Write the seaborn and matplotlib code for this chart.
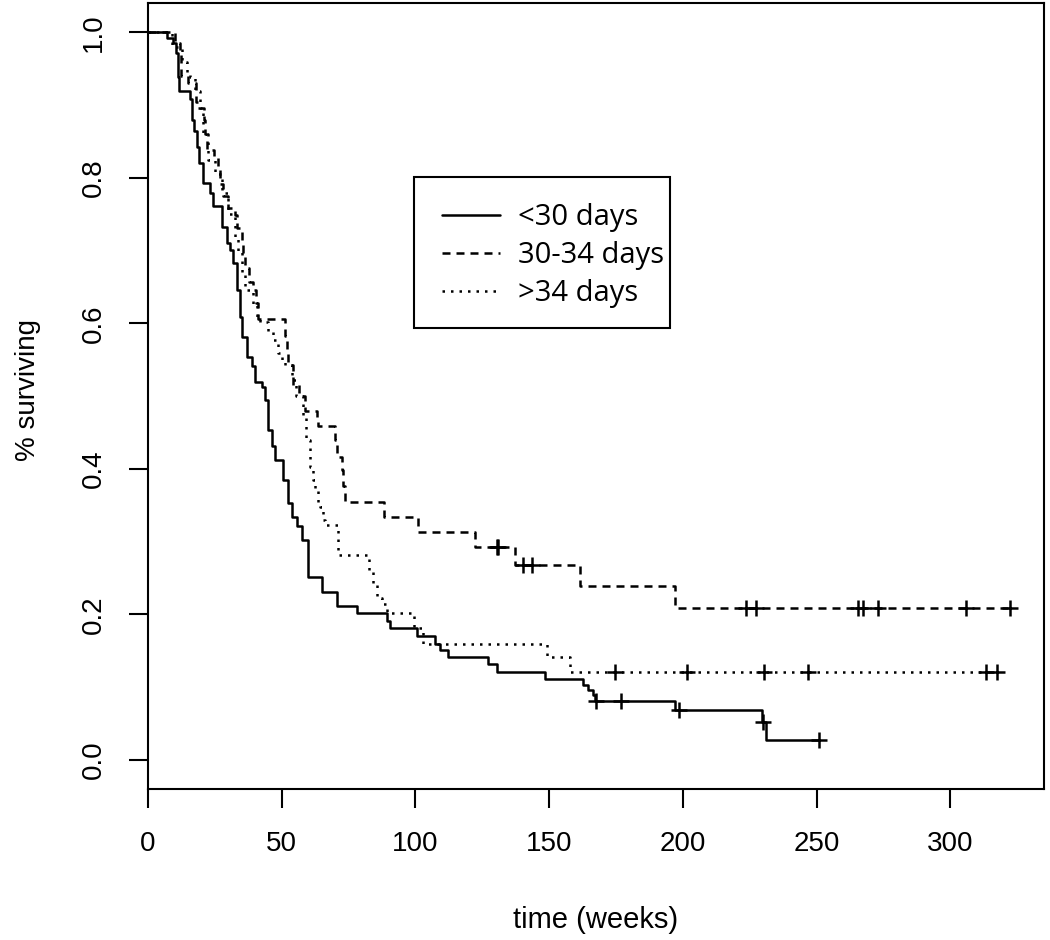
import numpy as np
import pandas as pd
import matplotlib
matplotlib.use("Agg")
import matplotlib.pyplot as plt
from matplotlib.patches import Rectangle
import seaborn as sns

# Kaplan-Meier steps (time in weeks, survival after each step)
short_t = [0, 7.0, 9.2, 10.5, 11.3, 11.7, 15.7, 16.3, 17.2, 18.2, 19.2, 20.7, 23.2, 24.2,
           27.5, 29.4, 30.7, 31.9, 33.1, 34.4, 35.0, 36.9, 38.8, 40.0, 42.5, 43.7, 45.0,
           46.2, 47.5, 50.6, 52.4, 53.7, 55.6, 57.4, 60.0, 64.9, 70.5, 78.0, 89.2, 90.5,
           100.4, 107.3, 109.2, 112.3, 127.2, 130.3, 148.4, 162.7, 164.6, 166.2, 167.1,
           197.0, 229.4, 230.9, 250.8]
short_s = [1.0, 0.992, 0.985, 0.971, 0.939, 0.919, 0.909, 0.88, 0.865, 0.843, 0.820, 0.793,
           0.779, 0.761, 0.733, 0.710, 0.701, 0.683, 0.646, 0.609, 0.581, 0.554, 0.541,
           0.520, 0.513, 0.495, 0.454, 0.431, 0.412, 0.385, 0.353, 0.334, 0.321, 0.302,
           0.252, 0.231, 0.211, 0.202, 0.191, 0.181, 0.170, 0.160, 0.151, 0.141, 0.132,
           0.121, 0.111, 0.103, 0.096, 0.089, 0.081, 0.069, 0.052, 0.027, 0.027]
short_cens = [167.5, 177.0, 198.6, 229.8, 250.8]

mid_t = [0, 10.0, 12.0, 12.5, 15.0, 17.9, 18.8, 21.0, 21.3, 21.9, 24.7, 26.3, 27.0, 28.1,
         29.8, 32.5, 33.1, 35.0, 35.6, 36.3, 37.9, 39.4, 40.4, 41.2, 51.2, 51.8, 52.4,
         54.3, 56.5, 58.7, 63.0, 63.5, 69.9, 70.5, 72.4, 73.0, 73.6, 88.1, 101.0, 122.2,
         137.2, 161.5, 197.2, 322.2]
mid_s = [1.0, 0.985, 0.972, 0.94, 0.93, 0.905, 0.896, 0.88, 0.86, 0.838, 0.83, 0.815, 0.792,
         0.775, 0.759, 0.749, 0.731, 0.715, 0.697, 0.676, 0.657, 0.646, 0.628, 0.606, 0.582,
         0.564, 0.543, 0.515, 0.50, 0.480, 0.470, 0.459, 0.44, 0.417, 0.399, 0.376, 0.355,
         0.334, 0.313, 0.293, 0.268, 0.239, 0.209, 0.209]
mid_cens = [130.3, 130.8, 140.3, 143.4, 223.4, 227.3, 265.3, 267.4, 273.0, 305.8, 322.2]

long_t = [0, 8.8, 12.6, 14.5, 15.7, 17.5, 19.4, 20.7, 22.5, 25.0, 27.5, 30.0, 32.5, 33.5,
          35.0, 36.3, 39.4, 40.6, 41.9, 45.0, 46.9, 48.7, 50.0, 51.2, 53.7, 55.5, 58.0,
          59.0, 60.6, 61.8, 62.4, 63.7, 64.3, 65.5, 66.2, 71.1, 82.8, 84.2, 85.5, 87.5,
          89.2, 99.5, 103.0, 149.0, 157.8, 317.5]
long_s = [1.0, 0.98, 0.96, 0.945, 0.939, 0.92, 0.896, 0.861, 0.825, 0.806, 0.779, 0.751,
          0.719, 0.70, 0.667, 0.646, 0.625, 0.609, 0.602, 0.589, 0.577, 0.56, 0.55, 0.543,
          0.522, 0.50, 0.47, 0.44, 0.403, 0.385, 0.371, 0.355, 0.348, 0.330, 0.323, 0.282,
          0.261, 0.241, 0.222, 0.214, 0.202, 0.181, 0.160, 0.142, 0.121, 0.121]
long_cens = [174.6, 201.4, 230.4, 246.8, 313.5, 317.5]

groups = ["<30 days", "30-34 days", ">34 days"]
styles = {"<30 days": "-", "30-34 days": (0, (3.2, 2.4)), ">34 days": (0, (1, 2.4))}
curves = {"<30 days": (short_t, short_s, short_cens),
          "30-34 days": (mid_t, mid_s, mid_cens),
          ">34 days": (long_t, long_s, long_cens)}


def surv_at(times, surv, t):
    i = np.searchsorted(times, t, side="right") - 1
    return np.asarray(surv)[i]


sns.set_style("ticks", {"axes.edgecolor": "black", "xtick.color": "black",
                        "ytick.color": "black", "text.color": "black",
                        "axes.labelcolor": "black"})
plt.rcParams["font.family"] = ["Liberation Sans", "DejaVu Sans"]

fig = plt.figure(figsize=(10.5, 9.4), dpi=100)
ax = fig.add_axes([148 / 1050, 1 - 789 / 940, (1044 - 148) / 1050, (789 - 3.3) / 940])

handles = []
for g in groups:
    t, s, cens = curves[g]
    df = pd.DataFrame({"time": t, "surv": s})
    sns.lineplot(data=df, x="time", y="surv", ax=ax, estimator=None, sort=False,
                 drawstyle="steps-post", color="black", linewidth=1.8,
                 linestyle=styles[g], label=g, legend=False)
    handles.append(ax.lines[-1])
    cdf = pd.DataFrame({"time": cens, "surv": surv_at(t, s, cens)})
    sns.scatterplot(data=cdf, x="time", y="surv", ax=ax, marker="+", s=140,
                    color="black", linewidth=1.8, legend=False, zorder=3)

ax.set_xlim(0, 335)
ax.set_ylim(-0.04, 1.04)
ax.set_xticks([0, 50, 100, 150, 200, 250, 300])
ax.set_yticks([0.0, 0.2, 0.4, 0.6, 0.8, 1.0])
ax.set_yticklabels(["0.0", "0.2", "0.4", "0.6", "0.8", "1.0"])
for sp in ax.spines.values():
    sp.set_visible(True)
    sp.set_linewidth(1.5)
    sp.set_color("black")
ax.tick_params(axis="both", length=13.5, width=1.5, labelsize=20, direction="out")
ax.tick_params(axis="x", pad=17)
ax.tick_params(axis="y", pad=16)
for lab in ax.get_yticklabels():
    lab.set_rotation(90)
    lab.set_va("center")
    lab.set_ha("right")

ax.set_xlabel("time (weeks)", fontsize=21)
ax.set_ylabel("% surviving", fontsize=20)
ax.xaxis.set_label_coords(0.5, -0.167)
ax.xaxis.label.set_va("center")
ax.yaxis.set_label_coords(-0.134, 0.508)
ax.yaxis.label.set_va("center")

# legend entries without frame, box drawn separately (R style: tight on the right)
leg = ax.legend(handles, groups, loc="upper left", bbox_to_anchor=(0.328, 0.7455),
                borderaxespad=0, borderpad=0, frameon=False,
                prop={"family": "Open Sans", "size": 21},
                handlelength=2.0, handletextpad=0.62, labelspacing=0.31)
ax.add_patch(Rectangle((0.2969, 0.5867), 0.2857, 0.1922, transform=ax.transAxes,
                       fill=False, edgecolor="black", linewidth=1.5, zorder=4))

fig.savefig("out.png", dpi=100)
